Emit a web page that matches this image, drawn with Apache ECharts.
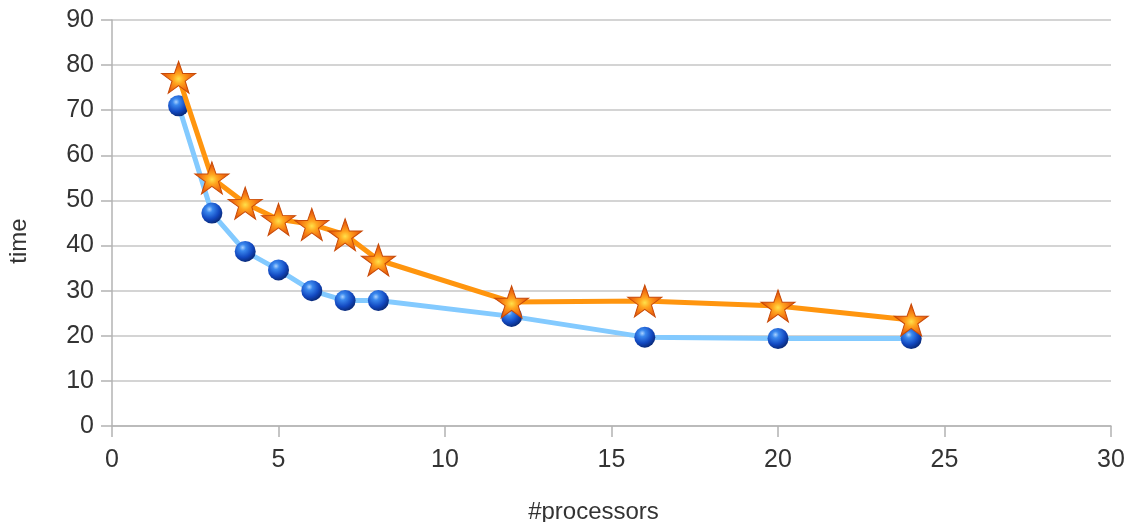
<!DOCTYPE html>
<html>
<head>
<meta charset="utf-8">
<style>
  html, body { margin: 0; padding: 0; background: #fff; }
  #chart { width: 1135px; height: 522px; }
</style>
<script src="https://cdn.jsdelivr.net/npm/echarts@6/dist/echarts.min.js"></script>
</head>
<body>
<div id="chart"></div>
<script>
// Number of processors used in each run
const processors = [2, 3, 4, 5, 6, 7, 8, 12, 16, 20, 24];
// Run times for the two configurations
const timeBlue = [71.0, 47.2, 38.7, 34.6, 30.0, 27.8, 27.8, 24.3, 19.7, 19.4, 19.4];
const timeOrange = [77.3, 55.0, 49.4, 45.8, 44.7, 42.4, 36.8, 27.5, 27.7, 26.6, 23.5];

const xTicks = { min: 0, max: 30, interval: 5 };
const yTicks = { min: 0, max: 90, interval: 10 };

const pairs = (xs, ys) => xs.map((x, i) => [x, ys[i]]);

const starPath = 'path://M50,0 L61.8,35.4 L98.1,35.4 L68.7,57.3 L79.4,92.7 L50,70.8 L20.6,92.7 L31.3,57.3 L1.9,35.4 L38.2,35.4 Z';

const starFill = new echarts.graphic.RadialGradient(0.5, 0.55, 0.55, [
  { offset: 0, color: '#ffe04a' },
  { offset: 0.28, color: '#ffa41e' },
  { offset: 0.62, color: '#f27212' },
  { offset: 1, color: '#d24a08' }
]);
const sphereFill = new echarts.graphic.RadialGradient(0.38, 0.32, 0.72, [
  { offset: 0, color: '#a9d2ff' },
  { offset: 0.22, color: '#3a88ee' },
  { offset: 0.65, color: '#1248c0' },
  { offset: 1, color: '#082670' }
]);

const fontFamily = 'Liberation Sans, Arial, sans-serif';
const axisFont = { fontFamily: fontFamily, fontSize: 25, color: '#333333' };
const nameFont = { fontFamily: fontFamily, fontSize: 24, color: '#333333' };

const chart = echarts.init(document.getElementById('chart'), null, { renderer: 'canvas' });
chart.setOption({
  animation: false,
  backgroundColor: '#ffffff',
  grid: { left: 112, right: 24, top: 20, bottom: 96, containLabel: false, outerBoundsMode: 'none' },
  xAxis: {
    type: 'value',
    min: xTicks.min, max: xTicks.max, interval: xTicks.interval,
    name: '#processors',
    nameLocation: 'middle',
    nameGap: 74,
    nameTextStyle: Object.assign({ padding: [0, 36, 0, 0] }, nameFont),
    axisLine: { show: true, lineStyle: { color: '#b3b3b3', width: 1.5 } },
    axisTick: { show: true, length: 11, lineStyle: { color: '#b3b3b3', width: 1.5 } },
    axisLabel: Object.assign({ margin: 22 }, axisFont),
    splitLine: { show: false }
  },
  yAxis: {
    type: 'value',
    min: yTicks.min, max: yTicks.max, interval: yTicks.interval,
    name: 'time',
    nameLocation: 'middle',
    nameGap: 81,
    nameRotate: 90,
    nameTextStyle: Object.assign({ padding: [0, 36, 0, 0] }, nameFont),
    axisLine: { show: true, lineStyle: { color: '#b3b3b3', width: 1.5 } },
    axisTick: { show: true, length: 11, lineStyle: { color: '#b3b3b3', width: 1.5 } },
    axisLabel: Object.assign({ margin: 18 }, axisFont),
    splitLine: { show: true, lineStyle: { color: '#c6c6c6', width: 1.5 } }
  },
  series: [
    {
      name: 'blue',
      type: 'line',
      data: pairs(processors, timeBlue),
      lineStyle: { color: '#83caff', width: 5 },
      symbol: 'circle',
      symbolSize: 21,
      itemStyle: { color: sphereFill, borderWidth: 0 },
      z: 2
    },
    {
      name: 'orange',
      type: 'line',
      data: pairs(processors, timeOrange),
      lineStyle: { color: '#ff950e', width: 5 },
      symbol: starPath,
      symbolSize: [34, 32],
      itemStyle: { color: starFill, borderColor: '#c84a08', borderWidth: 1 },
      z: 3
    }
  ]
});
</script>
</body>
</html>
